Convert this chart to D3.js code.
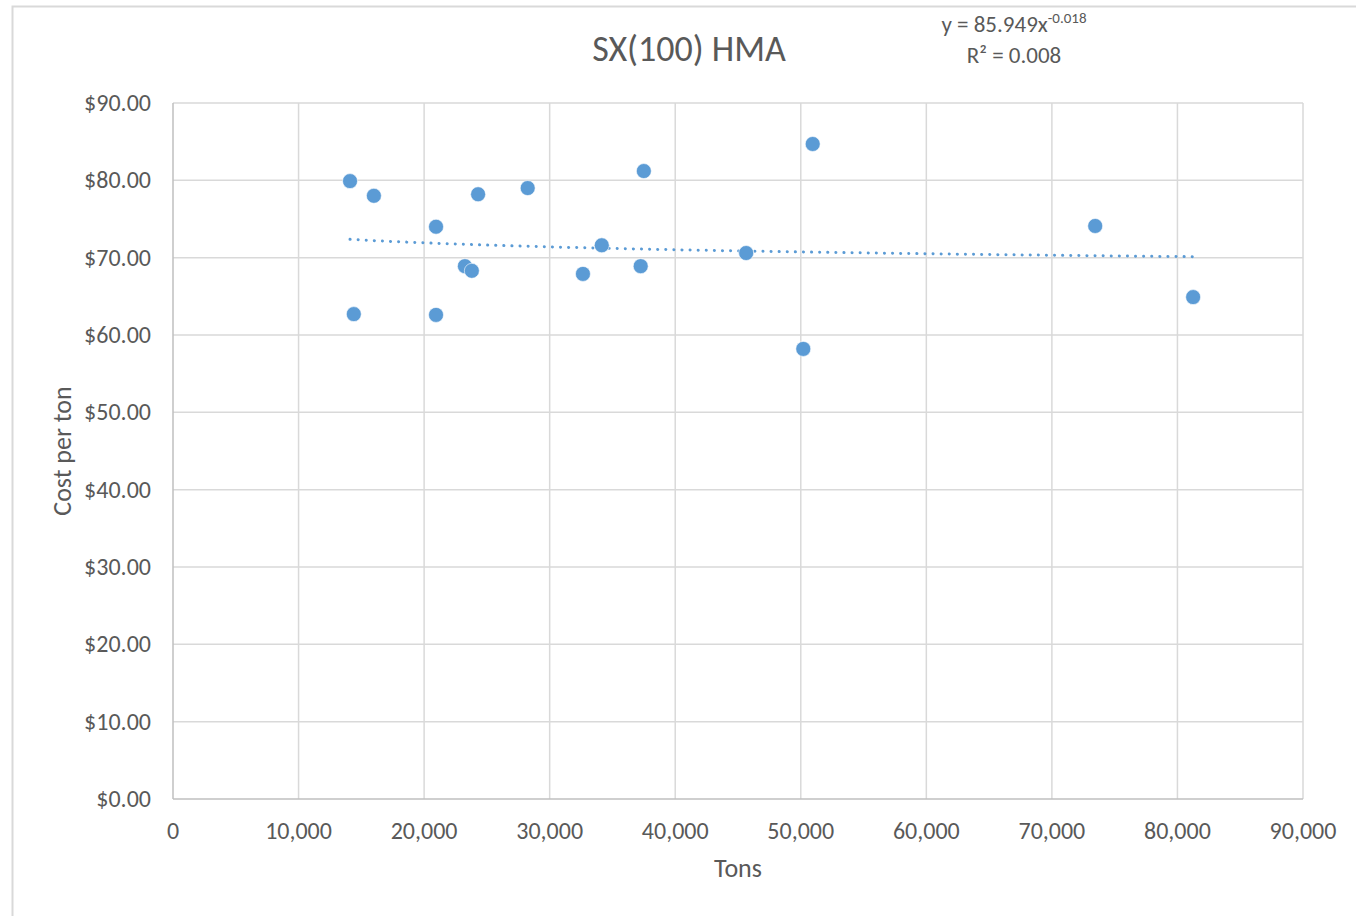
<!DOCTYPE html>
<html>
<head>
<meta charset="utf-8">
<script src="https://cdn.jsdelivr.net/npm/d3@7/dist/d3.min.js"></script>
<style>
  body { margin: 0; background: #fff; }
  text { font-family: Carlito, Lato, "Open Sans", sans-serif; fill: #595959; }
</style>
</head>
<body>
<div id="chart"></div>
<script>
// tons and cost per ton
const tons = [14100, 14400, 16000, 20950, 20950, 23250, 23800, 24300, 28250,
	32650, 34150, 37250, 37500, 45650, 50200, 50950, 73450, 81250];
const cost = [79.9, 62.7, 78.0, 74.0, 62.6, 68.9, 68.3, 78.2, 79.0,
	67.9, 71.6, 68.9, 81.2, 70.6, 58.2, 84.7, 74.1, 64.9];
const xTicks = [0, 10000, 20000, 30000, 40000, 50000, 60000, 70000, 80000, 90000];
const yTicks = [0, 10, 20, 30, 40, 50, 60, 70, 80, 90];
// power trend line shown on the chart: y = 85.949x^-0.018
const trendA = 85.949, trendB = -0.018;

const width = 1356, height = 916;
const margin = {left: 173, right: 53, top: 103, bottom: 117};

const svg = d3.select("#chart").append("svg")
	.attr("width", width)
	.attr("height", height);

// outer chart frame
svg.append("rect")
	.attr("x", 12.5).attr("y", 6.5)
	.attr("width", width + 20).attr("height", height + 20)
	.attr("fill", "none")
	.attr("stroke", "#d9d9d9")
	.attr("stroke-width", 2);

const x = d3.scaleLinear()
	.domain([0, 90000])
	.range([margin.left, width - margin.right]);
const y = d3.scaleLinear()
	.domain([0, 90])
	.range([height - margin.bottom, margin.top]);

//gridlines
svg.append("g")
	.selectAll("line.v")
	.data(xTicks.slice(1))
	.enter().append("line")
	.attr("x1", d => x(d)).attr("x2", d => x(d))
	.attr("y1", y(0)).attr("y2", y(90))
	.attr("stroke", "#d9d9d9").attr("stroke-width", 1.5);
svg.append("g")
	.selectAll("line.h")
	.data(yTicks.slice(1))
	.enter().append("line")
	.attr("x1", x(0)).attr("x2", x(90000))
	.attr("y1", d => y(d)).attr("y2", d => y(d))
	.attr("stroke", "#d9d9d9").attr("stroke-width", 1.5);

// axis lines
svg.append("line")
	.attr("x1", x(0)).attr("x2", x(90000))
	.attr("y1", y(0)).attr("y2", y(0))
	.attr("stroke", "#bfbfbf").attr("stroke-width", 1.5);
svg.append("line")
	.attr("x1", x(0)).attr("x2", x(0))
	.attr("y1", y(0)).attr("y2", y(90))
	.attr("stroke", "#bfbfbf").attr("stroke-width", 1.5);

// tick labels
const fmtX = d3.format(",");
svg.append("g")
	.selectAll("text")
	.data(xTicks)
	.enter().append("text")
	.attr("x", d => x(d))
	.attr("y", y(0) + 40)
	.attr("text-anchor", "middle")
	.attr("font-size", 24)
	.text(d => fmtX(d));
svg.append("g")
	.selectAll("text")
	.data(yTicks)
	.enter().append("text")
	.attr("x", x(0) - 22)
	.attr("y", d => y(d) + 8)
	.attr("text-anchor", "end")
	.attr("font-size", 24)
	.text(d => "$" + d.toFixed(2));

// titles
svg.append("text")
	.attr("x", 689).attr("y", 61)
	.attr("text-anchor", "middle")
	.attr("font-size", 36)
	.text("SX(100) HMA");
svg.append("text")
	.attr("x", x(45000)).attr("y", 877)
	.attr("text-anchor", "middle")
	.attr("font-size", 26)
	.text("Tons");
svg.append("text")
	.attr("transform", "translate(71," + y(45) + ") rotate(-90)")
	.attr("text-anchor", "middle")
	.attr("font-size", 26)
	.text("Cost per ton");

// trend line
const xMin = d3.min(tons), xMax = d3.max(tons);
const trendPts = d3.range(0, 41).map(i => {
	const t = xMin + (xMax - xMin) * i / 40;
	return [t, trendA * Math.pow(t, trendB)];
});
svg.append("path")
	.datum(trendPts)
	.attr("fill", "none")
	.attr("stroke", "#5b9bd5")
	.attr("stroke-width", 3)
	.attr("stroke-linecap", "round")
	.attr("stroke-dasharray", "0.1 8")
	.attr("d", d3.line().x(d => x(d[0])).y(d => y(d[1])));

// points
svg.append("g")
	.selectAll("circle")
	.data(tons.map((t, i) => ({t: t, c: cost[i]})))
	.enter().append("circle")
	.attr("cx", d => x(d.t))
	.attr("cy", d => y(d.c))
	.attr("r", 7.5)
	.attr("fill", "#5b9bd5")
	.attr("stroke", "#fff")
	.attr("stroke-width", 0.6);

// equation label
const eq = svg.append("text")
	.attr("x", 1014).attr("y", 32)
	.attr("text-anchor", "middle")
	.attr("font-size", 23);
eq.append("tspan").text("y = " + trendA + "x");
eq.append("tspan")
	.attr("font-size", 15)
	.attr("dy", -9)
	.text(trendB.toFixed(3));
svg.append("text")
	.attr("x", 1014).attr("y", 63)
	.attr("text-anchor", "middle")
	.attr("font-size", 23)
	.text("R² = 0.008");
</script>
</body>
</html>
